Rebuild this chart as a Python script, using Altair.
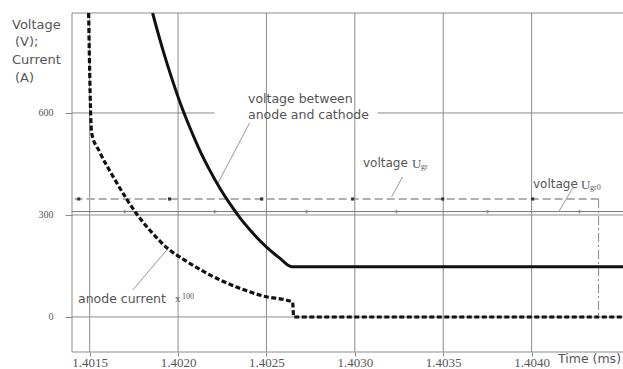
import altair as alt
import pandas as pd

# ---- axes ----
x_ticks = [1.4015, 1.4020, 1.4025, 1.4030, 1.4035, 1.4040]
y_ticks = [0, 300, 600]
x_domain = [1.4014, 1.404517]
y_domain = [-103, 894]

# ---- series (time in ms, value) ----
volt_t = [1.401856, 1.401896, 1.401936, 1.401981, 1.402020, 1.402066, 1.402122,
          1.402179, 1.402235, 1.402292, 1.402348, 1.402405, 1.402462, 1.402518,
          1.402575, 1.402643, 1.404517]
volt_v = [894, 818, 748, 676, 618, 558, 491, 432, 380, 334, 293, 257, 225, 197,
          173, 148, 148]

cur_t = [1.401494, 1.401511, 1.401557, 1.401630, 1.401709, 1.401766, 1.401839,
         1.401952, 1.402026, 1.402179, 1.402331, 1.402479, 1.402648, 1.402654, 1.404517]
cur_v = [894, 541, 485, 415, 347, 303, 256, 197, 171, 124, 88, 62, 44, 0, 0]

ugr_t = [1.401415, 1.404379]
ugr_v = [347, 347]
ugr_drop_t = [1.404379, 1.404379]
ugr_drop_v = [347, 0]
ugr_mark_t = [1.401438, 1.401952, 1.402473, 1.402988, 1.403497, 1.404006]

ugr0_v = [310]
ugr0_mark_t = [1.401698, 1.402207, 1.402727, 1.403236, 1.403751, 1.404271]

# grid
grid_x = [1.4014] + x_ticks
grid_y_full = [-103, 0, 300, 894]
grid_600_t = [1.4014, 1.403129]
grid_600_t2 = [1.402207, 1.404517]

# leader lines
lead_t = [1.402405, 1.402224, 1.401743, 1.401941, 1.403270, 1.403208, 1.404232, 1.404153]
lead_v = [571, 392, 79, 200, 412, 353, 379, 309]
lead_g = ["a", "a", "b", "b", "c", "c", "d", "d"]

GRID = "#8c8c8c"
TXT = "#555555"

xs = alt.Scale(domain=x_domain, nice=False, zero=False)
ys = alt.Scale(domain=y_domain, nice=False, zero=False)
xaxis = alt.Axis(values=x_ticks, format=".4f", grid=False, domain=False, tickSize=4,
                 tickColor=GRID, labelFont="Liberation Serif", labelFontSize=13,
                 labelColor=TXT, labelPadding=0, title=None)
yaxis = alt.Axis(values=y_ticks, format="d", grid=False, domain=False, tickSize=7,
                 tickColor=GRID, labelFont="Liberation Serif", labelFontSize=10,
                 labelColor=TXT, labelPadding=12, title=None)


def X(f="t"):
    return alt.X(f"{f}:Q", scale=xs, axis=xaxis, title=None)


def Y(f="v"):
    return alt.Y(f"{f}:Q", scale=ys, axis=yaxis, title=None)


one = pd.DataFrame({"k": [0]})


def label(text, px, py, font="DejaVu Sans", size=12.5, color=TXT):
    return alt.Chart(one).mark_text(text=text, font=font, fontSize=size, align="left",
                                    baseline="middle", color=color).encode(
        x=alt.value(px - 72), y=alt.value(py - 13))


vgrid = alt.Chart(pd.DataFrame({"t": grid_x})).mark_rule(color=GRID, strokeWidth=1).encode(x=X())
hgrid = alt.Chart(pd.DataFrame({"v": grid_y_full})).mark_rule(color=GRID, strokeWidth=1).encode(y=Y())
h600 = alt.Chart(pd.DataFrame({"t": grid_600_t, "t2": grid_600_t2, "v": [600, 600]})).mark_rule(
    color=GRID, strokeWidth=1).encode(x=X(), x2="t2:Q", y=Y())

ugr0 = alt.Chart(pd.DataFrame({"v": ugr0_v})).mark_rule(color="#777777", strokeWidth=1).encode(y=Y())
ugr0_marks = alt.Chart(pd.DataFrame({"t": ugr0_mark_t, "v": [310] * len(ugr0_mark_t)})).mark_point(
    shape="cross", size=14, filled=True, color="#777777").encode(x=X(), y=Y())

ugr = alt.Chart(pd.DataFrame({"t": ugr_t, "v": ugr_v})).mark_line(
    color="#b0b0b0", strokeWidth=2, strokeDash=[8, 4]).encode(x=X(), y=Y())
ugr_drop = alt.Chart(pd.DataFrame({"t": ugr_drop_t, "v": ugr_drop_v})).mark_line(
    color="#888888", strokeWidth=1, strokeDash=[9, 3, 2, 3]).encode(x=X(), y=Y())
ugr_marks = alt.Chart(pd.DataFrame({"t": ugr_mark_t, "v": [347] * len(ugr_mark_t)})).mark_square(
    size=10, color="#333333", opacity=1).encode(x=X(), y=Y())

volt = alt.Chart(pd.DataFrame({"t": volt_t, "v": volt_v})).mark_line(
    color="#111111", strokeWidth=3, interpolate="monotone", clip=True).encode(x=X(), y=Y())
cur = alt.Chart(pd.DataFrame({"t": cur_t, "v": cur_v})).mark_line(
    color="#111111", strokeWidth=3.2, strokeDash=[5, 2.5], interpolate="monotone",
    clip=True).encode(x=X(), y=Y())

leads = alt.Chart(pd.DataFrame({"t": lead_t, "v": lead_v, "g": lead_g})).mark_line(
    color="#999999", strokeWidth=1).encode(x=X(), y=Y(), detail="g:N")

texts = [
    label("Voltage", 12, 25, size=13),
    label("(V);", 15, 42, size=13),
    label("Current", 12, 60, size=13),
    label("(A)", 15, 78, size=13),
    label("voltage between", 248, 99),
    label("anode and cathode", 248, 115),
    label("voltage", 363, 163, size=12),
    label("U", 412, 164, font="Liberation Serif", size=13),
    label("gr", 421, 167, font="Liberation Serif", size=8),
    label("voltage", 533, 184, size=12),
    label("U", 581, 185, font="Liberation Serif", size=13),
    label("gr0", 590, 188, font="Liberation Serif", size=8),
    label("anode current", 78, 299),
    label("x", 175, 299, font="Liberation Serif", size=11),
    label("100", 182, 297, font="Liberation Serif", size=8),
    label("Time (ms)", 558, 359, size=12.5),
]

chart = alt.layer(
    vgrid, hgrid, h600, ugr0, ugr0_marks, ugr, ugr_drop, ugr_marks, leads, volt, cur, *texts
).properties(
    width=551, height=339,
    autosize=alt.AutoSizeParams(type="none"),
    padding={"left": 72, "top": 13, "right": 0, "bottom": 17},
    background="white",
).configure_view(stroke=None)

chart.save("out.html", embed_options={"renderer": "svg", "actions": False})
